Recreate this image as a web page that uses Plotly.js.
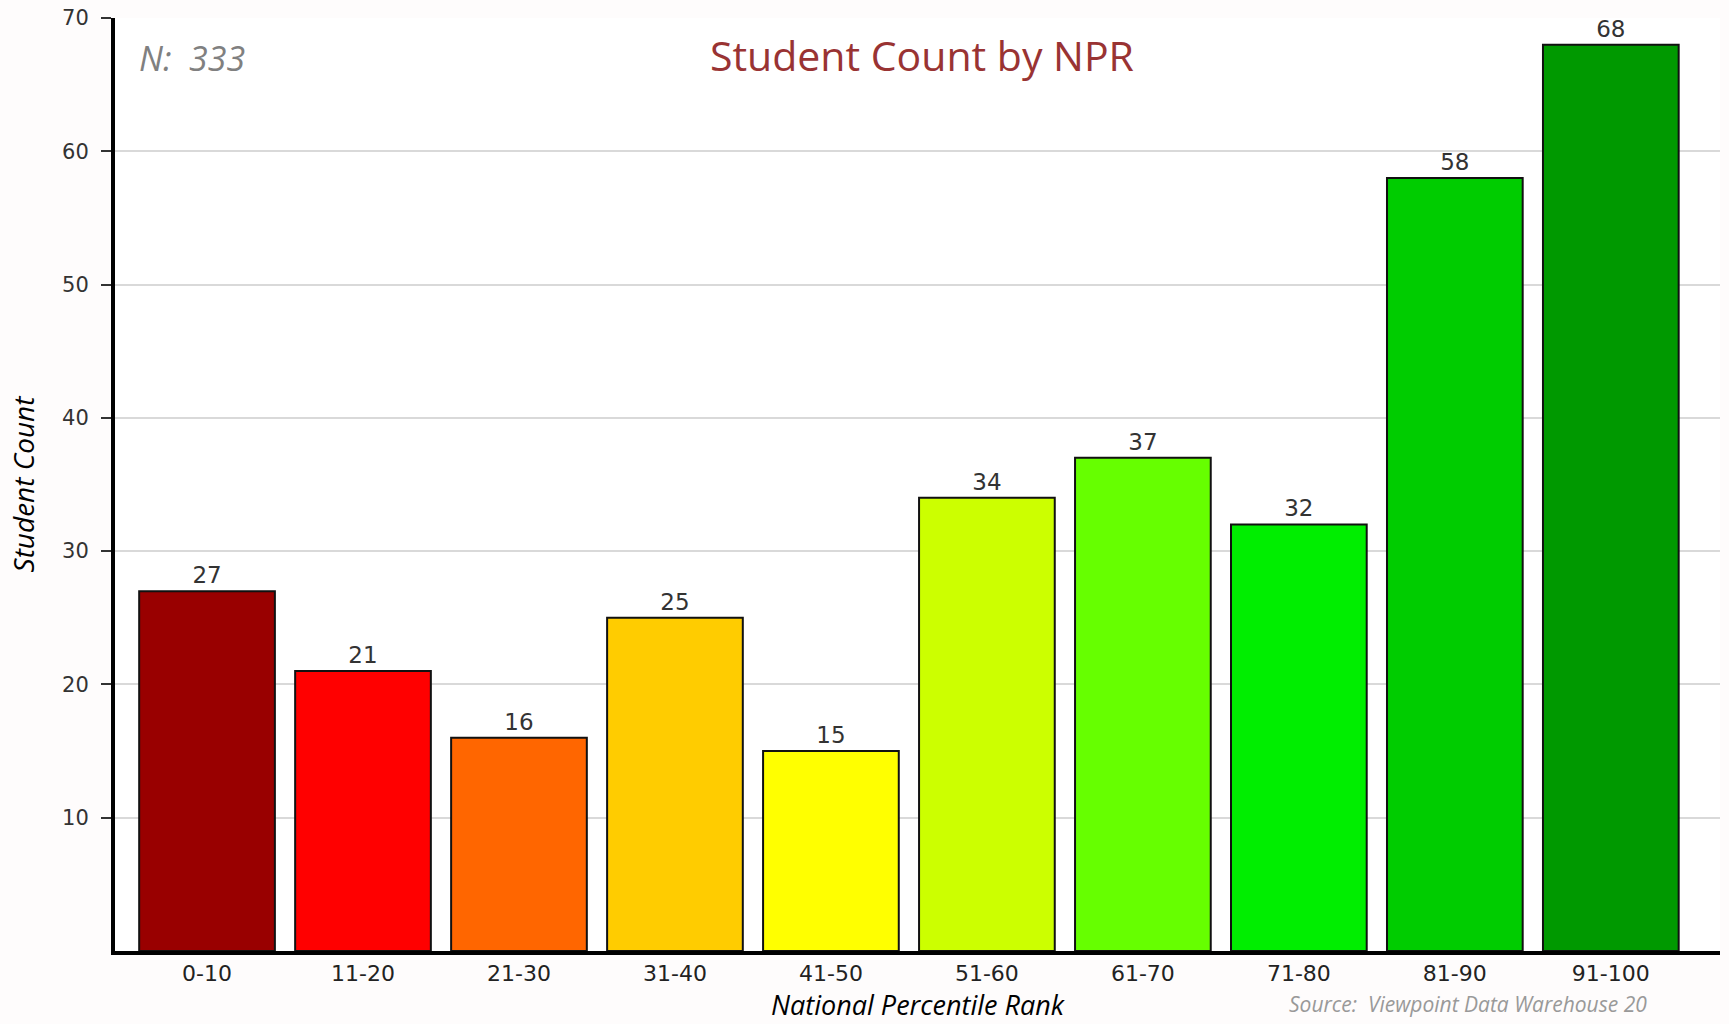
<!DOCTYPE html>
<html>
<head>
<meta charset="utf-8">
<script src="https://cdn.plot.ly/plotly-3.0.1.min.js"></script>
<style>html,body{margin:0;padding:0;background:#fefcfc;}#chart{width:1729px;height:1024px;}</style>
</head>
<body>
<div id="chart"></div>
<script>
const categories = ["0-10","11-20","21-30","31-40","41-50","51-60","61-70","71-80","81-90","91-100"];
const counts = [27, 21, 16, 25, 15, 34, 37, 32, 58, 68];
const barColors = ["#990000","#ff0000","#ff6600","#ffcc00","#ffff00","#ccff00","#66ff00","#00ee00","#00cc00","#009900"];
const yTicks = [10, 20, 30, 40, 50, 60, 70];
const totalN = 333;
const sourceText = "Source:  Viewpoint Data Warehouse 20";

const trace = {
  type: "bar",
  x: categories.map((c, i) => i),
  y: counts,
  width: 0.87,
  marker: { color: barColors, line: { color: "#111", width: 2 } },
  text: counts.map(String),
  textposition: "outside",
  cliponaxis: false,
  textfont: { family: "DejaVu Sans", size: 23, color: "#333" },
  hoverinfo: "x+y"
};

const layout = {
  width: 1729, height: 1024,
  margin: { l: 115, r: 9, t: 18, b: 73 },
  paper_bgcolor: "#fefcfc",
  plot_bgcolor: "#ffffff",
  showlegend: false,
  xaxis: {
    range: [-0.59, 9.70],
    tickvals: categories.map((c, i) => i),
    ticktext: categories,
    showgrid: false, zeroline: false,
    showline: true, linecolor: "#000", linewidth: 4,
    ticks: "", ticklabelstandoff: 0,
    tickfont: { family: "DejaVu Sans", size: 22, color: "#222" },
    title: { text: "National Percentile Rank", standoff: 8,
             font: { family: "Open Sans", size: 27, color: "#000", style: "italic" } }
  },
  yaxis: {
    range: [0, 70],
    tickvals: yTicks,
    showgrid: true, gridcolor: "#d9d9d9", gridwidth: 2,
    zeroline: false,
    showline: true, linecolor: "#000", linewidth: 4,
    ticks: "outside", ticklen: 10, tickwidth: 2, tickcolor: "#333",
    ticklabelstandoff: 8,
    tickfont: { family: "DejaVu Sans", size: 21, color: "#333" },
    title: { text: "Student Count", standoff: 20,
             font: { family: "Open Sans", size: 28, color: "#000", style: "italic" } }
  },
  annotations: [
    { text: "Student Count by NPR", xref: "paper", yref: "paper", x: 0.5025, y: 0.96,
      xanchor: "center", yanchor: "middle", showarrow: false,
      font: { family: "Open Sans", size: 41, color: "#993333" } },
    { text: "N:  " + totalN, xref: "paper", yref: "paper", x: 0.014, y: 0.957,
      xanchor: "left", yanchor: "middle", showarrow: false,
      font: { family: "Open Sans", size: 34, color: "#808080", style: "italic" } },
    { text: sourceText, xref: "paper", yref: "paper", x: 0.73, y: -0.074,
      xanchor: "left", yanchor: "bottom", showarrow: false,
      font: { family: "Open Sans", size: 21, color: "#999", style: "italic" } }
  ]
};

Plotly.newPlot("chart", [trace], layout, { displayModeBar: false, staticPlot: true });
</script>
</body>
</html>
